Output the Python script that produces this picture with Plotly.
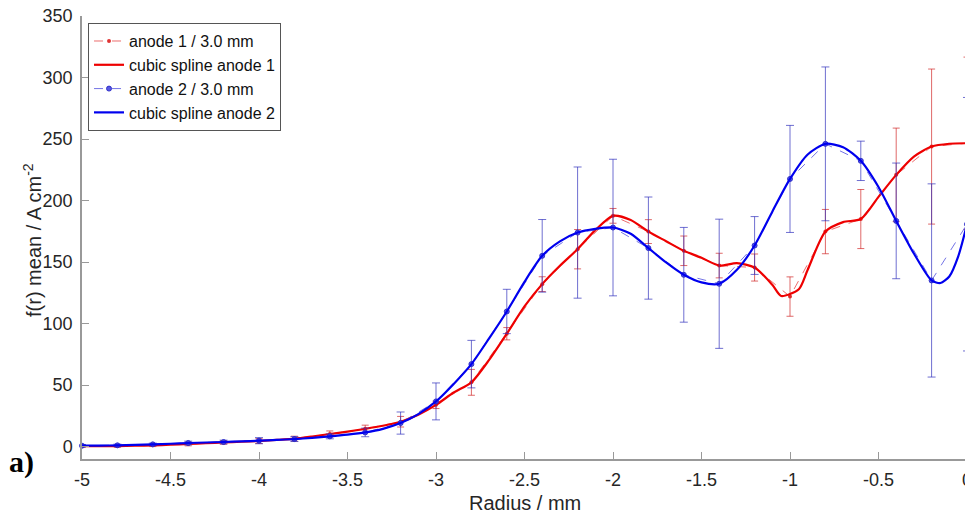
import plotly.graph_objects as go

# ---- data points (step 0.2 mm) ----
radius = [-5.0, -4.8, -4.6, -4.4, -4.2, -4.0, -3.8, -3.6, -3.4, -3.2, -3.0, -2.8, -2.6,
          -2.4, -2.2, -2.0, -1.8, -1.6, -1.4, -1.2, -1.0, -0.8, -0.6, -0.4, -0.2, 0.0]

anode1 = [0.5, 0.5, 1.1, 2.2, 3.5, 4.6, 6.5, 10.3, 14.5, 20.3, 34.0, 52.3, 91.8,
          132.1, 160.5, 187.6, 174.8, 159.2, 147.2, 145.6, 122.0, 174.8, 185.0, 220.9, 243.9, 246.6]
anode1_err = [1, 1, 1, 1.5, 1.5, 2, 2, 2.5, 3, 4.3, 3, 10.5, 5,
              6, 16, 6, 9.7, 12, 10, 11, 16, 18, 24, 38, 63, 70]

anode2 = [0.8, 1.1, 1.9, 3.0, 3.8, 4.9, 6.2, 8.4, 11.6, 19.2, 36.8, 67.1, 109.9,
          155.1, 174.0, 178.1, 161.4, 139.7, 132.4, 163.5, 217.6, 246.1, 232.3, 183.5, 135.1, 180.8]
anode2_err = [1, 1, 1, 1.5, 1.5, 2.5, 2, 2, 3.5, 9, 15, 19.3, 18,
              29.5, 53.3, 55.5, 41.5, 38.5, 52.5, 23.5, 43.5, 62.5, 16, 47, 78.5, 103]

# ---- cubic spline curves ----
spline1_x = [-5.0, -4.9, -4.8, -4.7, -4.6, -4.5, -4.4, -4.3, -4.2, -4.1, -4.0, -3.9, -3.8,
             -3.7, -3.6, -3.5, -3.4, -3.3, -3.2, -3.1, -3.0, -2.9, -2.8, -2.7, -2.6, -2.5,
             -2.4, -2.3, -2.2, -2.1, -2.0, -1.9, -1.8, -1.7, -1.6, -1.5, -1.4, -1.3, -1.2,
             -1.1, -1.05, -0.95, -0.9, -0.8, -0.7, -0.6, -0.5, -0.4, -0.3, -0.2, -0.1, 0.0]
spline1_y = [0.5, 0.5, 0.5, 0.8, 1.1, 1.6, 2.2, 2.8, 3.5, 4.0, 4.6, 5.5, 6.5,
             8.3, 10.3, 12.3, 14.5, 17.0, 20.3, 26.0, 34.0, 44.0, 52.3, 70.5, 91.8, 114.0,
             132.1, 147.0, 160.5, 176.0, 187.6, 184.3, 174.8, 167.0, 159.2, 153.5, 147.2, 149.2, 145.6,
             131.6, 122.5, 128.0, 143.8, 174.8, 182.5, 185.0, 203.0, 220.9, 235.8, 243.9, 246.2, 246.6]

spline2_x = [-5.0, -4.9, -4.8, -4.7, -4.6, -4.5, -4.4, -4.3, -4.2, -4.1, -4.0, -3.9, -3.8,
             -3.7, -3.6, -3.5, -3.4, -3.3, -3.2, -3.1, -3.0, -2.9, -2.8, -2.7, -2.6, -2.5,
             -2.4, -2.3, -2.2, -2.1, -2.0, -1.9, -1.8, -1.7, -1.6, -1.5, -1.4, -1.3, -1.2,
             -1.1, -1.0, -0.9, -0.8, -0.7, -0.6, -0.5, -0.4, -0.3, -0.2, -0.15, -0.1, -0.05, 0.0]
spline2_y = [0.8, 0.9, 1.1, 1.5, 1.9, 2.4, 3.0, 3.4, 3.8, 4.3, 4.9, 5.5, 6.2,
             7.2, 8.4, 9.8, 11.6, 14.5, 19.2, 26.5, 36.8, 51.0, 67.1, 88.0, 109.9, 134.0,
             155.1, 166.8, 174.0, 177.0, 178.1, 173.0, 161.4, 149.7, 139.7, 133.5, 132.4, 143.7, 163.5,
             191.0, 217.6, 237.5, 246.1, 243.4, 232.3, 211.0, 183.5, 157.0, 135.1, 133.0, 138.3, 154.5, 180.8]

x_ticks = [-5, -4.5, -4, -3.5, -3, -2.5, -2, -1.5, -1, -0.5, 0]
x_tick_labels = ["-5", "-4.5", "-4", "-3.5", "-3", "-2.5", "-2", "-1.5", "-1", "-0.5", "0"]
y_ticks = [0, 50, 100, 150, 200, 250, 300, 350]

FONT = "Liberation Sans, Arial, sans-serif"

fig = go.Figure()

fig.add_trace(go.Scatter(
    x=radius, y=anode1, name="anode 1 / 3.0 mm", mode="lines+markers", cliponaxis=False,
    line=dict(color="rgba(230,60,60,0.75)", width=1, dash="dash"),
    marker=dict(color="rgba(220,30,30,0.9)", size=4, symbol="circle"),
    error_y=dict(type="data", array=anode1_err, visible=True,
                 color="rgba(210,40,40,0.7)", thickness=1, width=3.5),
))
fig.add_trace(go.Scatter(
    x=spline1_x, y=spline1_y, name="cubic spline anode 1", mode="lines", cliponaxis=False,
    line=dict(color="#ee0000", width=2.2, shape="spline", smoothing=0.7),
))
fig.add_trace(go.Scatter(
    x=radius, y=anode2, name="anode 2 / 3.0 mm", mode="lines+markers", cliponaxis=False,
    line=dict(color="rgba(70,70,220,0.75)", width=1, dash="dash"),
    marker=dict(color="rgba(60,60,220,0.85)", size=5, symbol="circle",
                line=dict(color="rgba(40,40,200,0.9)", width=1)),
    error_y=dict(type="data", array=anode2_err, visible=True,
                 color="rgba(50,50,190,0.7)", thickness=1, width=4),
))
fig.add_trace(go.Scatter(
    x=spline2_x, y=spline2_y, name="cubic spline anode 2", mode="lines", cliponaxis=False,
    line=dict(color="#0000ee", width=2.2, shape="spline", smoothing=0.7),
))

# page has an 8px body margin, so the figure is sized/offset to compensate
fig.update_layout(
    width=965, height=507,
    margin=dict(l=74, r=6, t=8, b=56, autoexpand=False),
    paper_bgcolor="white", plot_bgcolor="white",
    font=dict(family=FONT, size=18, color="#262626"),
    showlegend=True,
    legend=dict(
        x=0.0068, y=0.984, xanchor="left", yanchor="top",
        bgcolor="white", bordercolor="#555555", borderwidth=1,
        font=dict(family=FONT, size=16, color="#111111"),
        tracegroupgap=0, itemwidth=30,
    ),
    xaxis=dict(
        range=[-5, 0], tickmode="array", tickvals=x_ticks, ticktext=x_tick_labels,
        ticks="inside", ticklen=7, tickcolor="#999999", tickwidth=1,
        showline=True, linecolor="#999999", linewidth=1.5,
        showgrid=False, zeroline=False, mirror=False, automargin=False,
        tickfont=dict(family=FONT, size=18, color="#262626"),
        ticklabelstandoff=4, ticklabeloverflow="allow",
    ),
    yaxis=dict(
        range=[-10, 350], tickmode="array", tickvals=y_ticks,
        ticks="inside", ticklen=7, tickcolor="#999999", tickwidth=1,
        showline=True, linecolor="#999999", linewidth=1.5,
        showgrid=False, zeroline=False, mirror=False, automargin=False,
        tickfont=dict(family=FONT, size=18, color="#262626"),
        ticklabelstandoff=4, ticklabeloverflow="allow",
    ),
    annotations=[
        dict(text="Radius / mm", xref="paper", yref="paper", x=0.5, y=(459 - 503) / 443,
             xanchor="center", yanchor="middle", showarrow=False,
             font=dict(family=FONT, size=20, color="#262626")),
        dict(text="f(r) mean / A cm<sup>-2</sup>", xref="paper", yref="paper",
             x=(32 - 82) / 885, y=(459 - 240) / 443, xanchor="center", yanchor="middle",
             textangle=-90, showarrow=False,
             font=dict(family=FONT, size=20, color="#262626")),
        dict(text="<b>a)</b>", xref="paper", yref="paper",
             x=(21 - 82) / 885, y=(459 - 462) / 443, xanchor="center", yanchor="middle",
             showarrow=False,
             font=dict(family="Liberation Serif, Times New Roman, serif", size=30, color="black")),
    ],
)

fig.write_html("out.html")
